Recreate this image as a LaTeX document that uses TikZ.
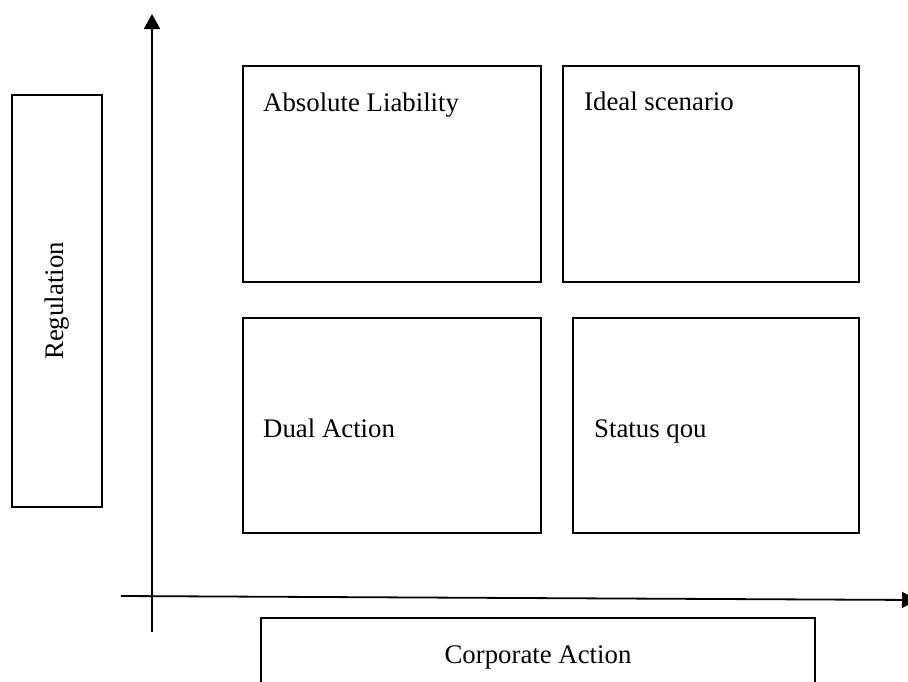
\documentclass[tikz,border=0pt]{standalone}
\usepackage{fontspec}
\setmainfont{Liberation Serif}
\usetikzlibrary{arrows.meta}
\begin{document}
\begin{tikzpicture}[x=1pt,y=-1pt,
  boxnode/.style={draw=black,line width=1.5pt,rectangle,inner sep=0pt},
  lbl/.style={inner sep=0pt,font=\fontsize{26.8}{32}\selectfont},
  axis/.style={line width=1.8pt,-{Triangle[length=15pt,width=16pt]}}]
\useasboundingbox (0,0) rectangle (908,681);
\fill[white] (0,0) rectangle (908,681);
% boxes
\node[boxnode,minimum width=298pt,minimum height=216pt] (abs) at (392,174) {};
\node[boxnode,minimum width=296pt,minimum height=216pt] (ideal) at (711,174) {};
\node[boxnode,minimum width=298pt,minimum height=215pt] (dual) at (392,425.5) {};
\node[boxnode,minimum width=286pt,minimum height=215pt] (status) at (716,425.5) {};
\node[boxnode,minimum width=90pt,minimum height=412pt] (reg) at (57,301) {};
\node[boxnode,minimum width=554pt,minimum height=82pt] (corp) at (538,659) {};
% labels
\node[lbl,anchor=base west] (absl) at (263,111) {Absolute Liability};
\node[lbl,anchor=base west] (ideall) at (584,110) {Ideal scenario};
\node[lbl,anchor=base west] (duall) at (263,437) {Dual Action};
\node[lbl,anchor=base west] (statusl) at (594,437) {Status qou};
\node[lbl,rotate=90] (regl) at (reg.center) {Regulation};
\node[lbl,anchor=base] (corpl) at (538,663) {Corporate Action};
% axes
\coordinate (vb) at (152,632);
\coordinate (vt) at (152,14);
\coordinate (hl) at (121,596);
\coordinate (hr) at (917,600);
\draw[axis] (vb) -- (vt);
\draw[axis] (hl) -- (hr);
\end{tikzpicture}
\end{document}
